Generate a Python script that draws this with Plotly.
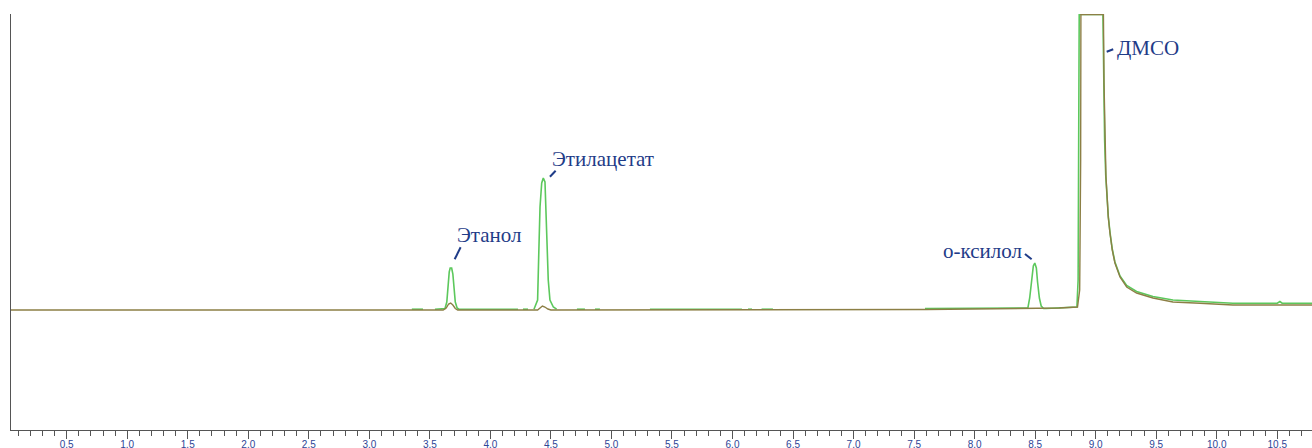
import plotly.graph_objects as go

# ---- data (retention time, min ; detector signal, arb. units) ----
time_brown = [0.04, 3.35, 3.61, 3.635, 3.655, 3.672, 3.69, 3.71, 3.73,
              4.39, 4.41, 4.43, 4.45, 4.475, 4.50, 7.60, 8.70, 8.85, 8.868,
              8.876, 8.878, 9.064, 9.069, 9.077, 9.085, 9.096, 9.104, 9.118,
              9.137, 9.159, 9.201, 9.256, 9.338, 9.473, 9.638, 9.862, 10.134,
              10.787]
signal_brown = [0, 0, 0, 2, 6, 7, 5, 1.5, 0,
                0, 2, 4, 3, 1, 0, 0.5, 2, 3, 20,
                150, 295.5, 295.5, 227, 167, 133, 110, 93, 77,
                60, 47, 33, 23, 17, 12, 8, 6.7, 5,
                5]

time_green = [3.351, 3.443, None,
              3.542, 3.60, 3.625, 3.64, 3.65, 3.66, 3.668, 3.68, 3.69, 3.70,
              3.71, 3.725, 3.74, 4.228, None,
              4.269, 4.311, None,
              4.36, 4.382, 4.390, 4.399, 4.410, 4.424, 4.437, 4.451, 4.459,
              4.467, 4.478, 4.492, 4.520, 4.547, None,
              4.715, 4.781, None,
              4.864, 4.905, None,
              5.318, 6.078, None,
              6.128, 6.161, None,
              6.24, 6.334, None,
              7.59, 8.42, 8.44, 8.455, 8.47, 8.485, 8.497, 8.51, 8.52, 8.535,
              8.55, 8.57, 8.59, 8.845, 8.855, 8.860, 8.864, 9.060, 9.066,
              9.074, 9.083, 9.095, 9.104, 9.118, 9.137, 9.159, 9.201, 9.256,
              9.338, 9.473, 9.638, 9.862, 10.134, 10.50, 10.522, 10.54, 10.787]
signal_green = [0.8, 0.8, None,
                0.8, 0.8, 1.5, 8, 25, 38, 42, 42, 36, 22,
                8, 2, 0.8, 0.8, None,
                0.8, 0.8, None,
                0.8, 6.7, 10, 53, 103, 127, 132, 128, 107,
                70, 30, 10, 3, 0.8, None,
                0.8, 0.8, None,
                0.8, 0.8, None,
                0.8, 0.8, None,
                0.8, 0.8, None,
                0.8, 0.8, None,
                1.5, 1.5, 2, 12, 30, 44, 47, 42, 28, 12,
                4, 1.5, 1.5, 3, 30, 150, 295.5, 295.5, 230,
                170, 135, 111, 94, 78, 61, 48, 34, 24.5,
                18.5, 13.5, 10, 8.5, 6.8, 6.8, 8.5, 6.8, 6.8]

peak_labels = ["Этанол", "Этилацетат", "о-ксилол", "ДМСО"]
label_x = [3.708, 4.492, 7.720, 9.159]
label_y = [75, 150.7, 59, 261.7]
leader_x0 = [3.705, 4.492, 8.416, 9.091]
leader_y0 = [50.7, 133.3, 56, 258.3]
leader_x1 = [3.754, 4.539, 8.471, 9.145]
leader_y1 = [62.7, 139.3, 50.7, 260.7]

tick_vals = [0.5 * i for i in range(1, 22)]
tick_text = [f"{v:.1f}" for v in tick_vals]

GREEN = "#5cc85c"
BROWN = "#8c7f45"
LABEL = "#1f3c88"
AXIS = "#555555"

fig = go.Figure()
fig.add_trace(go.Scatter(x=time_green, y=signal_green, mode="lines",
                         line=dict(color=GREEN, width=1.6), connectgaps=False,
                         hoverinfo="skip"))
fig.add_trace(go.Scatter(x=time_brown, y=signal_brown, mode="lines",
                         line=dict(color=BROWN, width=1.4), hoverinfo="skip"))

for t, x, y in zip(peak_labels, label_x, label_y):
    fig.add_annotation(x=x, y=y, xref="x", yref="y", text=t, showarrow=False,
                       xanchor="left", yanchor="middle",
                       font=dict(family="Liberation Serif", size=21, color=LABEL))
for x0, y0, x1, y1 in zip(leader_x0, leader_y0, leader_x1, leader_y1):
    fig.add_shape(type="line", xref="x", yref="y", x0=x0, y0=y0, x1=x1, y1=y1,
                  line=dict(color=LABEL, width=2))

fig.update_layout(
    width=1312, height=448,
    margin=dict(l=11, r=0, t=14, b=18, autoexpand=False),
    plot_bgcolor="white", paper_bgcolor="white",
    showlegend=False,
    xaxis=dict(range=[0.04, 10.787], showline=True, linecolor=AXIS, linewidth=1,
               showgrid=False, zeroline=False, automargin=False,
               tickmode="array", tickvals=tick_vals, ticktext=tick_text,
               ticks="outside", ticklen=8, tickwidth=1, tickcolor=AXIS,
               ticklabelstandoff=-3,
               tickfont=dict(family="Liberation Sans", size=10, color="#2e4596"),
               minor=dict(dtick=0.1, tick0=0, ticks="outside", ticklen=5,
                          tickwidth=1, tickcolor=AXIS, showgrid=False)),
    yaxis=dict(range=[-120, 296], showline=True, linecolor=AXIS, linewidth=1,
               showgrid=False, zeroline=False, showticklabels=False, ticks="",
               automargin=False),
)

fig.write_html("out.html")
